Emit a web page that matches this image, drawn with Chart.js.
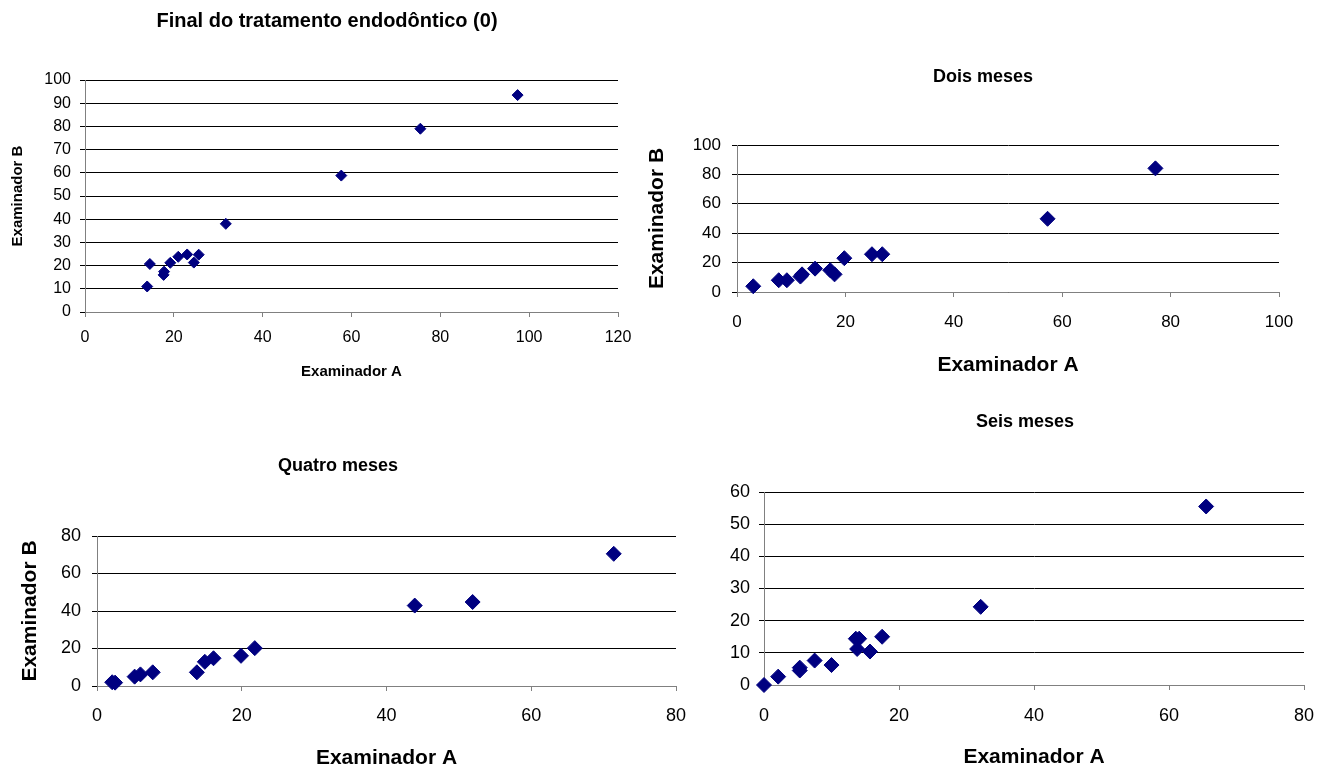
<!DOCTYPE html>
<html><head><meta charset="utf-8">
<script src="https://cdn.jsdelivr.net/npm/chart.js@4.4.1/dist/chart.umd.min.js"></script>
<style>
html,body{margin:0;padding:0;background:#fff;width:1338px;height:771px;overflow:hidden}
canvas{position:absolute;left:0;top:0}
</style></head><body>
<canvas id="c1" width="1338" height="771"></canvas>
<canvas id="c2" width="1338" height="771"></canvas>
<canvas id="c3" width="1338" height="771"></canvas>
<canvas id="c4" width="1338" height="771"></canvas>
<script>
// ---- data ----
const chartTitles = ["Final do tratamento endodôntico (0)", "Dois meses", "Quatro meses", "Seis meses"];
const xAxisTitle = "Examinador A";
const yAxisTitle = "Examinador B";

const finalA = [14.0, 14.6, 17.7, 17.8, 19.2, 21.0, 23.0, 24.5, 25.6, 31.7, 57.7, 75.5, 97.4];
const finalB = [11.0, 20.7, 16.0, 17.4, 21.2, 23.8, 24.8, 21.3, 24.7, 38.0, 58.8, 79.0, 93.5];

const doisA = [3.0, 7.7, 9.2, 11.7, 12.0, 14.4, 17.2, 18.0, 19.8, 24.9, 26.8, 57.3, 77.2];
const doisB = [3.9, 8.0, 8.0, 10.5, 12.0, 15.9, 14.8, 12.0, 23.0, 25.7, 25.7, 49.8, 84.1];

const quatroA = [2.1, 2.5, 5.2, 6.0, 7.7, 13.8, 14.9, 16.1, 19.9, 21.8, 43.9, 51.9, 71.4];
const quatroB = [2.0, 1.8, 5.0, 6.2, 7.3, 7.3, 12.9, 14.8, 16.1, 20.2, 42.9, 44.8, 70.5];

const seisA = [0, 2.1, 5.3, 5.3, 7.5, 10.0, 13.6, 14.1, 13.8, 15.7, 17.5, 32.1, 65.5];
const seisB = [0, 2.6, 4.5, 5.4, 7.6, 6.2, 14.4, 14.4, 11.2, 10.4, 15.0, 24.3, 55.5];

const finalXTicks = [0, 20, 40, 60, 80, 100, 120];
const finalYTicks = [0, 10, 20, 30, 40, 50, 60, 70, 80, 90, 100];
const doisXTicks = [0, 20, 40, 60, 80, 100];
const doisYTicks = [0, 20, 40, 60, 80, 100];
const quatroXTicks = [0, 20, 40, 60, 80];
const quatroYTicks = [0, 20, 40, 60, 80];
const seisXTicks = [0, 20, 40, 60, 80];
const seisYTicks = [0, 10, 20, 30, 40, 50, 60];

// ---- layout (page pixels) ----
const W = 1338, H = 771;
const layouts = [
  {L:85, R:618, T:80, B:312, titleY:21, titleX:327, yBox:49, titleSize:20, tickSize:16, axTitleSize:15,
   xLabY:338, xTitleY:372, yLabPad:9, yTitleX:18, radius:5.5},
  {L:737, R:1279, T:145, B:292, titleY:77, titleX:983, yBox:50, titleSize:18, tickSize:17, axTitleSize:21,
   xLabY:322, xTitleY:365, yLabPad:11, yTitleX:657, radius:7.5},
  {L:97, R:676, T:536, B:686, titleY:466, titleX:338, yBox:97, titleSize:18, tickSize:18, axTitleSize:21,
   xLabY:716, xTitleY:758, yLabPad:11, yTitleX:30, radius:7.5},
  {L:764, R:1304, T:492, B:685, titleY:422, titleX:1025, yBox:44, titleSize:18, tickSize:18, axTitleSize:21,
   xLabY:716, xTitleY:757, yLabPad:9, yTitleX:null, radius:7.5}
];

Chart.defaults.font.family = "'Liberation Sans', Arial, sans-serif";
Chart.defaults.color = '#000';

function build(id, xs, ys, xt, yt, title, lay) {
  const pts = xs.map((x, i) => ({x: x, y: ys[i]}));
  const pl = lay.L - lay.yBox;
  const spare = 2 * lay.titleX - pl - lay.R;   // extra right box to centre the title
  const rightW = Math.max(0, spare);
  const pr = W - lay.R - rightW;
  const tlh = lay.titleSize * 1.2;
  const alh = lay.axTitleSize * 1.2;
  const tickLen = 5;
  const xPad = lay.xLabY - lay.B - tickLen - lay.tickSize * 0.6;
  const scales = {
    x: {
      type: 'linear',
      min: xt[0], max: xt[xt.length - 1],
      afterBuildTicks: (s) => { s.ticks = xt.map(v => ({value: v})); },
      afterFit: (s) => { s.height = H - lay.B; },
      ticks: {font: {size: lay.tickSize}, padding: xPad, maxRotation: 0},
      grid: {display: true, drawOnChartArea: false, drawTicks: true, tickLength: tickLen, color: '#808080'},
      border: {display: true, color: '#808080', width: 1},
      title: {display: true, text: xAxisTitle, font: {size: lay.axTitleSize, weight: 'bold'},
              padding: {top: 0, bottom: H - lay.xTitleY - alh / 2}}
    },
    y: {
      type: 'linear',
      min: yt[0], max: yt[yt.length - 1],
      afterBuildTicks: (s) => { s.ticks = yt.map(v => ({value: v})); },
      afterFit: (s) => { s.width = lay.yBox; },
      ticks: {font: {size: lay.tickSize}, padding: lay.yLabPad},
      grid: {display: true, drawOnChartArea: true, drawTicks: true, tickLength: tickLen, color: '#000'},
      border: {display: true, color: '#808080', width: 1},
      title: lay.yTitleX === null ? {display: false} :
             {display: true, text: yAxisTitle, font: {size: lay.axTitleSize, weight: 'bold'},
              padding: {top: lay.yTitleX - pl - alh / 2, bottom: 0}}
    }
  };
  if (rightW > 0) {
    scales.spacer = {
      type: 'linear', position: 'right', display: true,
      afterFit: (s) => { s.width = rightW; },
      ticks: {display: false}, grid: {display: false}, border: {display: false}
    };
  }
  return new Chart(document.getElementById(id), {
    type: 'scatter',
    data: {datasets: [{
      data: pts,
      pointStyle: 'rectRot',
      pointRadius: lay.radius,
      pointHoverRadius: lay.radius,
      backgroundColor: '#000080',
      borderColor: '#000080',
      borderWidth: 1,
      clip: false
    }]},
    options: {
      responsive: false,
      animation: false,
      layout: {padding: {left: pl, right: pr, top: 0, bottom: 0}},
      plugins: {
        legend: {display: false},
        tooltip: {enabled: false},
        title: {
          display: true, text: title,
          font: {size: lay.titleSize, weight: 'bold'},
          padding: {top: lay.titleY - tlh / 2, bottom: lay.T - (lay.titleY + tlh / 2)}
        }
      },
      scales: scales
    }
  });
}

build('c1', finalA, finalB, finalXTicks, finalYTicks, chartTitles[0], layouts[0]);
build('c2', doisA, doisB, doisXTicks, doisYTicks, chartTitles[1], layouts[1]);
build('c3', quatroA, quatroB, quatroXTicks, quatroYTicks, chartTitles[2], layouts[2]);
build('c4', seisA, seisB, seisXTicks, seisYTicks, chartTitles[3], layouts[3]);
</script>
</body></html>
